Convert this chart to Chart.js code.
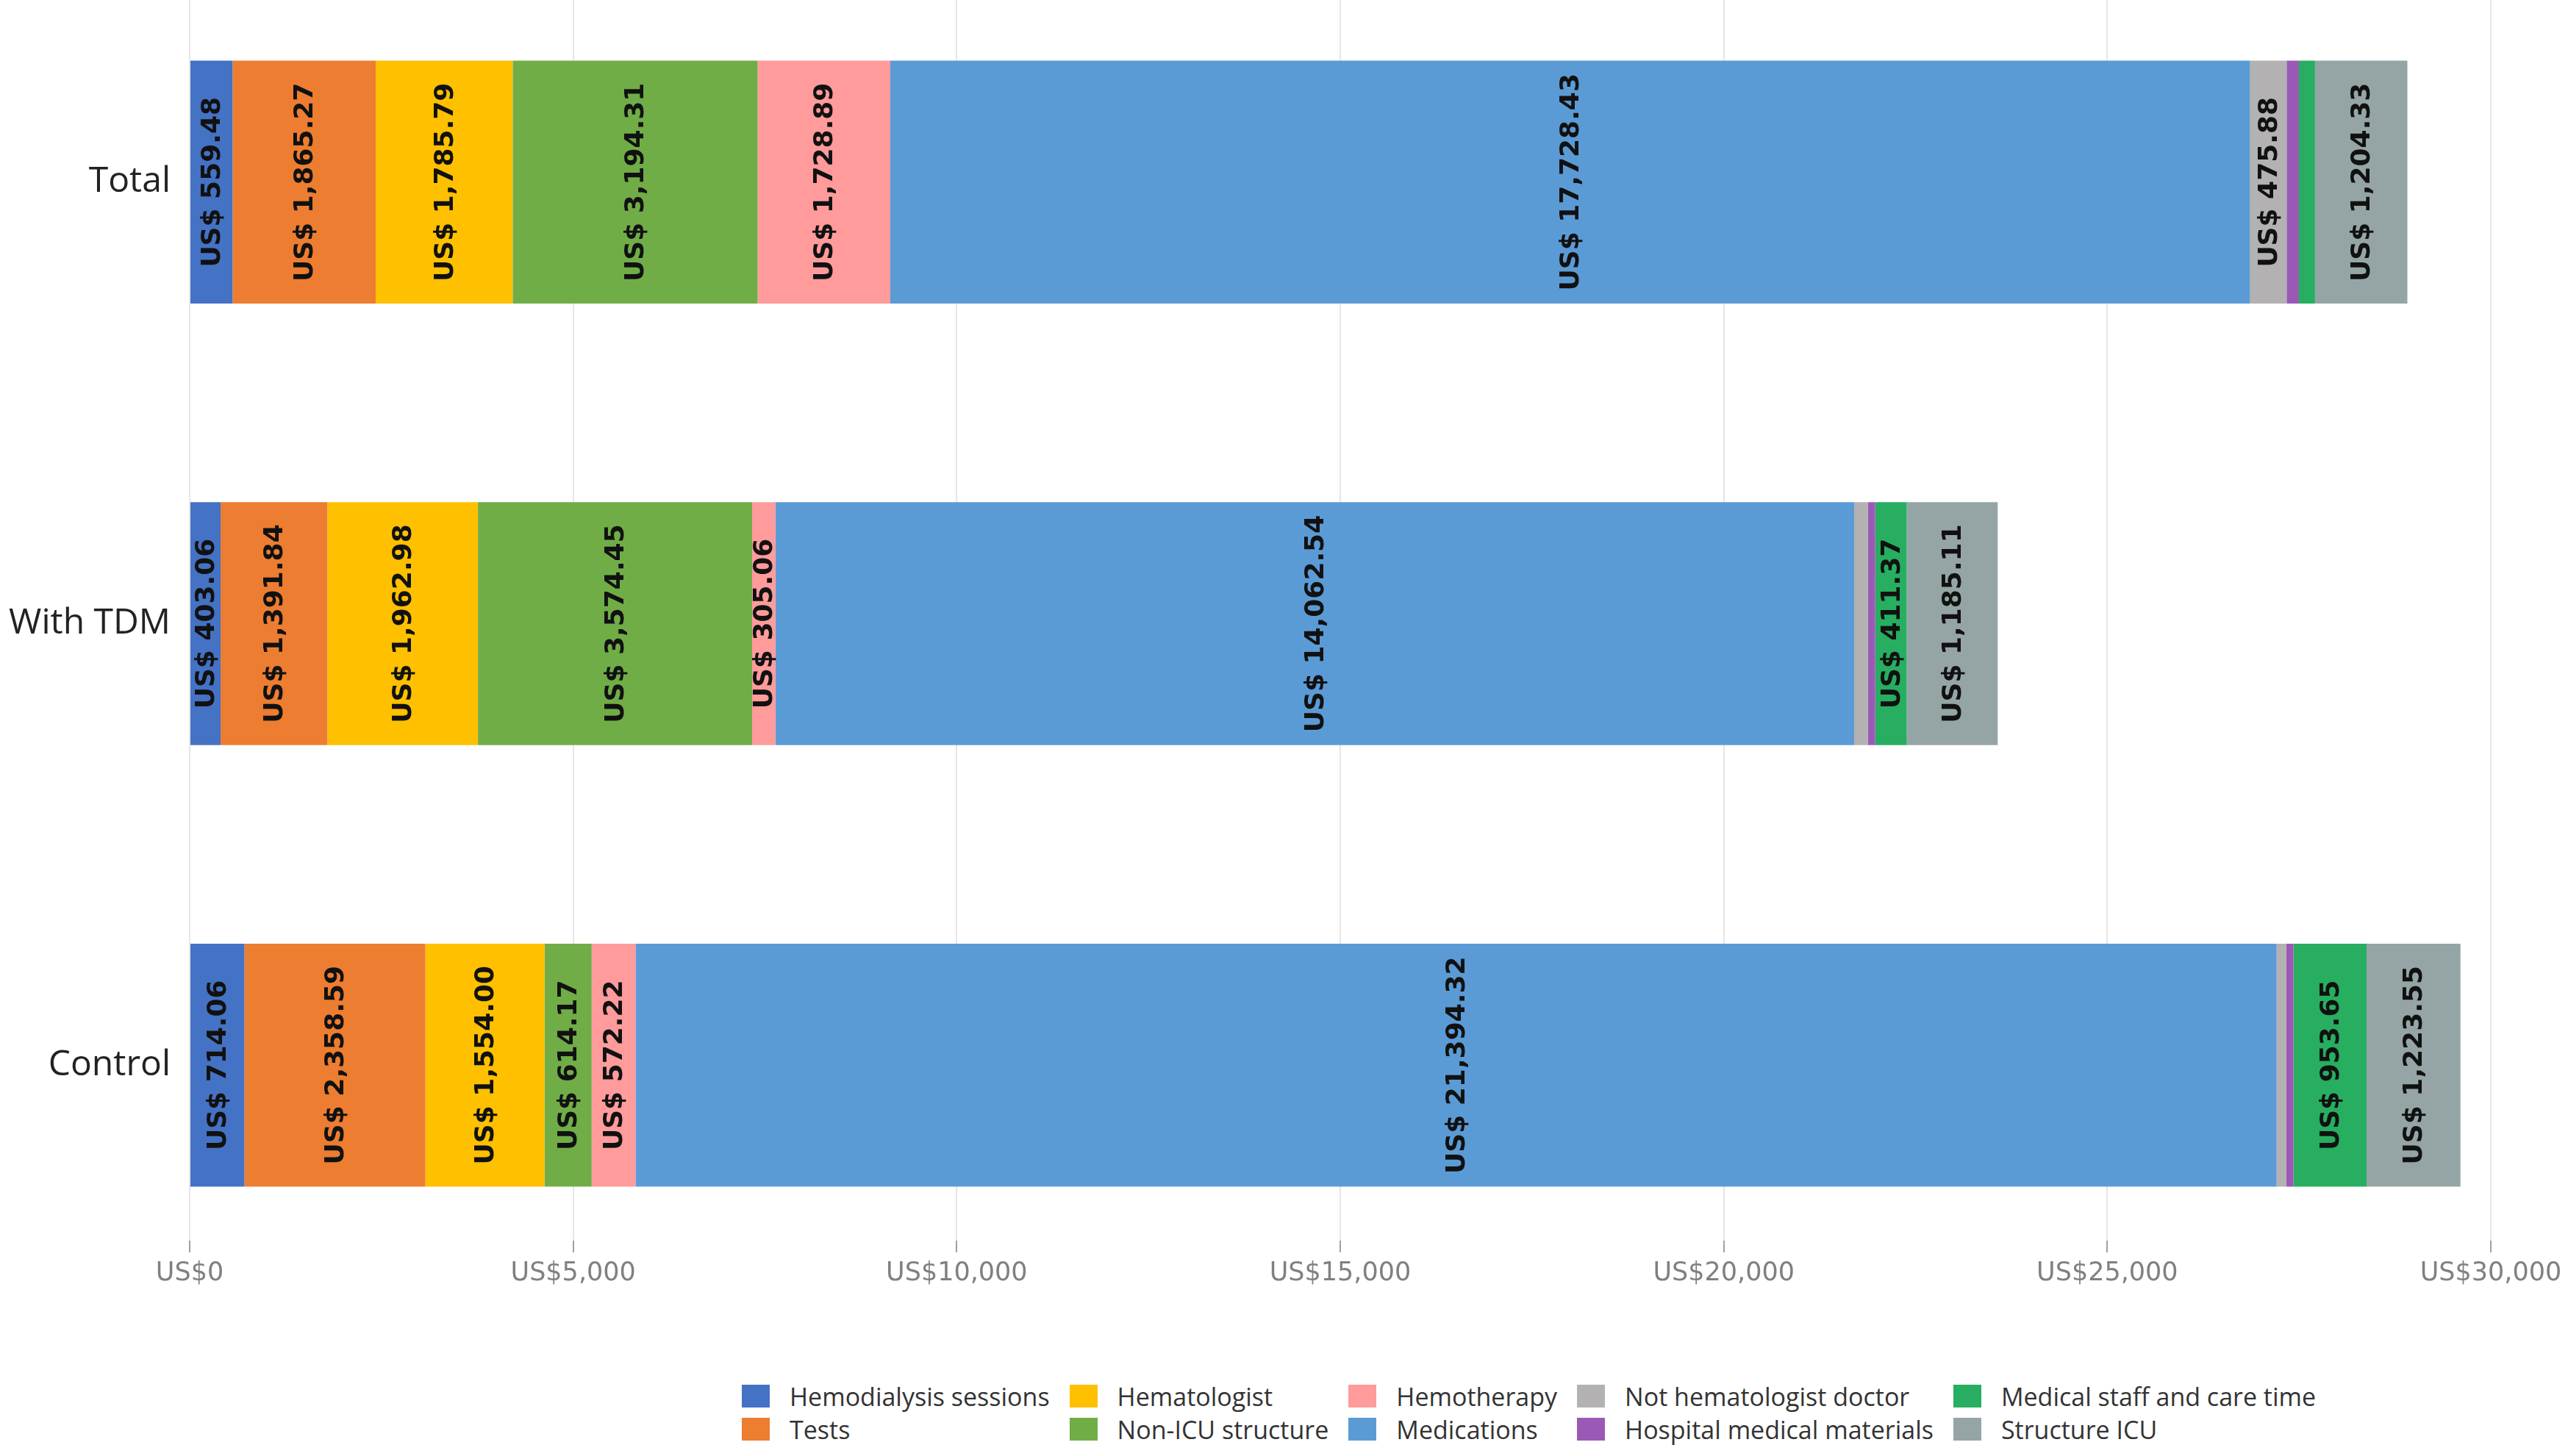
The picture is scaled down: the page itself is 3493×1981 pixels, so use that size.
<!DOCTYPE html>
<html>
<head>
<meta charset="utf-8">
<script src="https://cdn.jsdelivr.net/npm/chart.js@4/dist/chart.umd.min.js"></script>
<style>
  body { margin: 0; background: #fff; }
  #wrap { position: relative; width: 3493px; height: 1981px; }
  #box { position: absolute; left: 0; top: 0; width: 3493px; height: 1762px; }
  #legend {
    position: absolute; left: 1009px; top: 1884px;
    display: grid; grid-template-rows: repeat(2, 31px); grid-auto-flow: column;
    column-gap: 27px; row-gap: 14px;
    font-family: "Open Sans", sans-serif; font-size: 34px; color: #333;
  }
  #legend .item { display: flex; align-items: center; white-space: nowrap; }
  #legend .sw { width: 38px; height: 31px; margin-right: 27px; flex: none; }
</style>
</head>
<body>
<div id="wrap">
  <div id="box"><canvas id="chart"></canvas></div>
  <div id="legend"></div>
</div>
<script>
const GROUPS = ["Total", "With TDM", "Control"];

const CATEGORIES = [
  "Hemodialysis sessions", "Tests", "Hematologist", "Non-ICU structure", "Hemotherapy",
  "Medications", "Not hematologist doctor", "Hospital medical materials",
  "Medical staff and care time", "Structure ICU"
];

const COLORS = [
  "#4472c4", "#ed7d31", "#ffc000", "#70ad47", "#ff9b9b",
  "#5b9bd5", "#b3b1b1", "#9b59b6", "#27ae60", "#95a5a6"
];

// one array per group, same order as CATEGORIES (small unlabeled ones)
const TOTAL    = [559.48, 1865.27, 1785.79, 3194.31, 1728.89, 17728.43, 475.88, 160, 210, 1204.33];
const WITH_TDM = [403.06, 1391.84, 1962.98, 3574.45, 305.06, 14062.54, 180, 95, 411.37, 1185.11];
const CONTROL  = [714.06, 2358.59, 1554.00, 614.17, 572.22, 21394.32, 125, 95, 953.65, 1223.55];

const X_TICKS = [0, 5000, 10000, 15000, 20000, 25000, 30000];

const ROWS = [TOTAL, WITH_TDM, CONTROL];
const LABEL_MIN = 300;

const fmtLabel = v => "US$ " + v.toLocaleString("en-US", { minimumFractionDigits: 2, maximumFractionDigits: 2 });

const datasets = CATEGORIES.map((name, c) => ({
  label: name,
  data: ROWS.map((row, g) => ({ x: row[c], y: g })),
  backgroundColor: COLORS[c],
  borderWidth: 0,
  barPercentage: 0.55,
  categoryPercentage: 1,
}));

const barLabels = {
  id: "barLabels",
  afterDatasetsDraw(chart) {
    const ctx = chart.ctx;
    ctx.save();
    ctx.font = 'bold 36px "DejaVu Sans"';
    ctx.fillStyle = "#111";
    ctx.textAlign = "center";
    ctx.textBaseline = "middle";
    chart.data.datasets.forEach((ds, di) => {
      const meta = chart.getDatasetMeta(di);
      meta.data.forEach((bar, i) => {
        const v = ds.data[i].x;
        if (v < LABEL_MIN) return;
        const cx = (bar.x + bar.base) / 2;
        ctx.save();
        ctx.translate(cx, bar.y);
        ctx.rotate(-Math.PI / 2);
        ctx.fillText(fmtLabel(v), 0, 2);
        ctx.restore();
      });
    });
    ctx.restore();
  }
};

const chart = new Chart(document.getElementById("chart"), {
  type: "bar",
  data: { datasets },
  plugins: [barLabels],
  options: {
    indexAxis: "y",
    responsive: true,
    maintainAspectRatio: false,
    animation: false,
    layout: { padding: { left: 12, right: 105, top: 0, bottom: 0 } },
    plugins: {
      legend: { display: false },
      tooltip: { enabled: false },
    },
    scales: {
      x: {
        type: "linear",
        stacked: true,
        min: 0,
        max: 30000,
        afterBuildTicks: axis => { axis.ticks = X_TICKS.map(v => ({ value: v })); },
        ticks: {
          color: "#808080",
          font: { family: "DejaVu Sans", size: 35 },
          padding: 8,
          callback: v => "US$" + v.toLocaleString("en-US"),
        },
        grid: { color: "#e6e6e6", lineWidth: 2, tickLength: 16, tickColor: "#a0a0a0", tickWidth: 2 },
        border: { display: false },
      },
      y: {
        type: "linear",
        stacked: true,
        reverse: true,
        offset: false,
        min: -0.4125,
        max: 2.3975,
        afterFit: axis => { axis.width = 246; axis.paddingTop = 0; axis.paddingBottom = 0; },
        ticks: {
          stepSize: 1,
          includeBounds: false,
          color: "#222",
          font: { family: "Open Sans", size: 48 },
          padding: 26,
          callback: v => (Number.isInteger(v) ? GROUPS[v] : ""),
        },
        grid: { display: false, drawTicks: false },
        border: { display: false },
      },
    },
  },
});

// legend in two rows, filled column by column like the original
const legend = document.getElementById("legend");
chart.data.datasets.forEach(ds => {
  const item = document.createElement("div");
  item.className = "item";
  item.innerHTML = `<span class="sw" style="background:${ds.backgroundColor}"></span><span>${ds.label}</span>`;
  legend.appendChild(item);
});
</script>
</body>
</html>
